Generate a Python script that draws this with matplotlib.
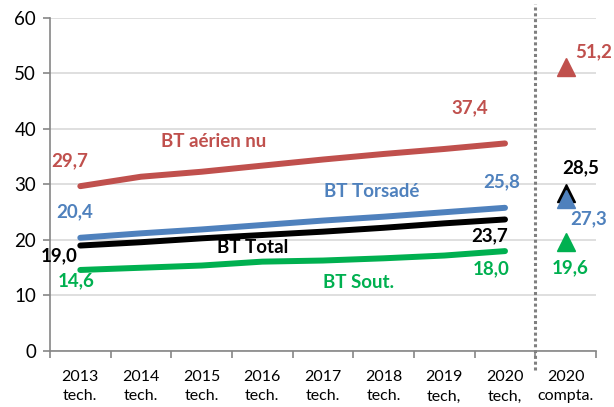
import matplotlib
matplotlib.use("Agg")
import matplotlib.pyplot as plt
import numpy as np

plt.rcParams['font.family'] = ['Lato', 'DejaVu Sans']

# catégories de l'axe x
categories = ['2013\ntech.', '2014\ntech.', '2015\ntech.', '2016\ntech.',
              '2017\ntech.', '2018\ntech.', '2019\ntech,', '2020\ntech,',
              '2020\ncompta.']

# séries techniques 2013-2020
aerien_nu = [29.7, 31.4, 32.3, 33.4, 34.5, 35.5, 36.4, 37.4]
torsade = [20.4, 21.2, 21.9, 22.7, 23.5, 24.2, 25.0, 25.8]
total = [19.0, 19.6, 20.3, 20.9, 21.5, 22.2, 23.0, 23.7]
sout = [14.6, 15.0, 15.4, 16.1, 16.3, 16.7, 17.2, 18.0]

# valeurs comptables 2020
compta_aerien = 51.2
compta_total = 28.5
compta_torsade = 27.3
compta_sout = 19.6

RED = '#C0504D'
BLUE = '#4F81BD'
GREEN = '#00B050'
BLACK = '#000000'

fig = plt.figure(figsize=(6.14, 4.07), dpi=100)
ax = fig.add_axes([0.0814, 0.1376, 0.8893, 0.8182])

x = np.arange(len(aerien_nu))
lw = 4.3
ax.plot(x, aerien_nu, color=RED, lw=lw, solid_capstyle='round', zorder=3)
ax.plot(x, torsade, color=BLUE, lw=lw, solid_capstyle='round', zorder=3)
ax.plot(x, total, color=BLACK, lw=lw, solid_capstyle='round', zorder=3)
ax.plot(x, sout, color=GREEN, lw=lw, solid_capstyle='round', zorder=3)

xc = len(categories) - 1
ax.plot([xc], [compta_aerien], marker='^', color=RED, ms=13, zorder=4)
ax.plot([xc], [compta_total], marker='^', color=BLACK, ms=13, zorder=4)
ax.plot([xc], [compta_torsade], marker='^', color=BLUE, ms=13, zorder=5)
ax.plot([xc], [compta_sout], marker='^', color=GREEN, ms=13, zorder=4)

# séparateur pointillé
ax.plot([7.5, 7.5], [-3.5, 62.5], color='#7F7F7F', lw=2.2, ls=(0, (1, 0.9)),
        clip_on=False, zorder=2)

ax.set_xlim(-0.5, 8.5)
ax.set_ylim(0, 60)
ax.set_yticks(range(0, 61, 10))
ax.yaxis.grid(True, color='#D9D9D9', lw=1.2)
ax.set_axisbelow(True)

ax.set_xticks(x.tolist() + [xc])
ax.set_xticklabels(categories, fontsize=11.5, linespacing=1.45)
ax.set_xticks(np.arange(-0.5, 9.0, 1.0), minor=True)
ax.tick_params(axis='x', which='major', length=0, pad=14)
ax.tick_params(axis='x', which='minor', length=5, color='#868686', width=1.2)
ax.tick_params(axis='y', length=5, color='#868686', width=1.2, pad=5,
               labelsize=13.5)

for side in ['top', 'right']:
    ax.spines[side].set_visible(False)
for side in ['left', 'bottom']:
    ax.spines[side].set_color('#868686')
    ax.spines[side].set_linewidth(1.2)

fs = 13.5
labels = [
    ('29,7', -0.17, 34.2, RED),
    ('BT aérien nu', 2.19, 37.8, RED),
    ('37,4', 6.42, 43.8, RED),
    ('51,2', 8.46, 54.0, RED),
    ('28,5', 8.25, 33.0, BLACK),
    ('25,8', 6.95, 30.5, BLUE),
    ('BT Torsadé', 4.80, 28.7, BLUE),
    ('27,3', 8.38, 23.8, BLUE),
    ('20,4', -0.10, 25.1, BLUE),
    ('23,7', 6.75, 20.7, BLACK),
    ('BT Total', 2.84, 18.7, BLACK),
    ('19,0', -0.35, 17.1, BLACK),
    ('18,0', 6.77, 14.8, GREEN),
    ('19,6', 8.07, 15.0, GREEN),
    ('14,6', -0.07, 12.6, GREEN),
    ('BT Sout.', 4.59, 12.4, GREEN),
]
for txt, tx, ty, c in labels:
    ax.text(tx, ty, txt, color=c, fontsize=fs, fontweight='bold',
            ha='center', va='center', zorder=6, clip_on=False)

fig.savefig('out.png', dpi=100)
